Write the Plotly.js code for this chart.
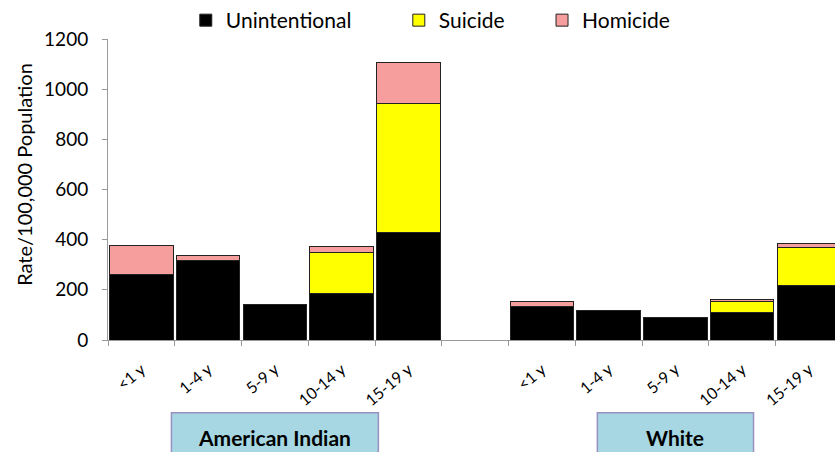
<!DOCTYPE html>
<html>
<head>
<meta charset="utf-8">
<script src="https://cdn.plot.ly/plotly-3.0.1.min.js"></script>
<style>
  html, body { margin: 0; padding: 0; background: #fff; overflow: hidden; }
  #chart { width: 835px; height: 452px; }
</style>
</head>
<body>
<div id="chart"></div>
<script>
// ---- data ----
const categories = ['<1 y', '1-4 y', '5-9 y', '10-14 y', '15-19 y', '', '<1 y', '1-4 y', '5-9 y', '10-14 y', '15-19 y'];
const unintentional = [263, 318, 142, 187, 430, null, 134, 119, 88, 109, 216];
const suicide       = [0,   0,   0,   161, 512, null, 0,   0,   0,  44,  152];
const homicide      = [112, 20,  0,   25,  165, null, 19,  0,   0,  10,  17];
const groups = ['American Indian', 'White'];
const groupCenters = [2, 8];
const groupHalfWidths = [1.55, 1.17];
const seriesNames = ['Unintentional', 'Suicide', 'Homicide'];
const seriesColors = ['#000000', '#FFFF00', '#F69E9E'];
const yTitle = 'Rate/100,000 Population';

const xIdx = categories.map((_, i) => i);
const font = 'Lato, "Open Sans", sans-serif';

const seriesValues = [unintentional, suicide, homicide];
const legendIds = ['legend', 'legend2', 'legend3'];
const traces = seriesValues.map((vals, k) => ({
  type: 'bar',
  name: seriesNames[k],
  x: xIdx,
  y: vals,
  marker: { color: seriesColors[k], line: { color: '#222', width: 1 } },
  legend: legendIds[k],
  hoverinfo: 'y+name'
}));

const shapes = groups.map((g, i) => ({
  type: 'rect', xref: 'x', yref: 'paper',
  x0: groupCenters[i] - groupHalfWidths[i], x1: groupCenters[i] + groupHalfWidths[i],
  y0: -0.242, y1: -0.45,
  fillcolor: '#A6D7E3', line: { color: '#9A90C2', width: 1.5 }, layer: 'above'
}));
const annotations = groups.map((g, i) => ({
  xref: 'x', yref: 'paper', x: groupCenters[i], y: -0.323,
  text: '<b>' + g + '</b>', showarrow: false,
  font: { family: font, size: 21, color: '#000' }, xanchor: 'center', yanchor: 'middle'
}));
annotations.push({
  xref: 'paper', yref: 'paper', x: -0.115, y: 0.55,
  text: yTitle, textangle: -90, showarrow: false,
  font: { family: font, size: 20, color: '#000' }, xanchor: 'center', yanchor: 'middle'
});

const legendCommon = {
  orientation: 'h', yanchor: 'middle', xanchor: 'left', y: 1.06,
  font: { family: font, size: 21, color: '#000' }, bgcolor: 'rgba(0,0,0,0)', borderwidth: 0
};

const layout = {
  width: 835, height: 452,
  margin: { l: 108, r: 0, t: 38, b: 112 },
  paper_bgcolor: '#fff', plot_bgcolor: '#fff',
  barmode: 'stack', bargap: 0.05,
  font: { family: font, color: '#000' },
  xaxis: {
    type: 'linear', range: [-0.5, 10.39],
    tickmode: 'array', tickvals: xIdx, ticktext: categories,
    ticks: '', tickangle: -40, ticklabelstandoff: 13,
    tickfont: { family: font, size: 16, color: '#000' },
    showline: true, linecolor: '#999', linewidth: 1,
    showgrid: false, zeroline: false,
    minor: { tick0: -0.5, dtick: 1, ticks: 'outside', ticklen: 5, tickcolor: '#999', tickwidth: 1, showgrid: false }
  },
  yaxis: {
    range: [0, 1200], tickmode: 'linear', tick0: 0, dtick: 200,
    ticks: 'outside', ticklen: 5, tickcolor: '#999', ticklabelstandoff: 10,
    tickfont: { family: font, size: 19, color: '#000' },
    showline: true, linecolor: '#999', linewidth: 1,
    showgrid: false, zeroline: false
  },
  legend:  Object.assign({}, legendCommon, { x: 0.107 }),
  legend2: Object.assign({}, legendCommon, { x: 0.40 }),
  legend3: Object.assign({}, legendCommon, { x: 0.597 }),
  shapes: shapes,
  annotations: annotations,
  showlegend: true
};

Plotly.newPlot('chart', traces, layout, { displayModeBar: false, staticPlot: true });
</script>
</body>
</html>
